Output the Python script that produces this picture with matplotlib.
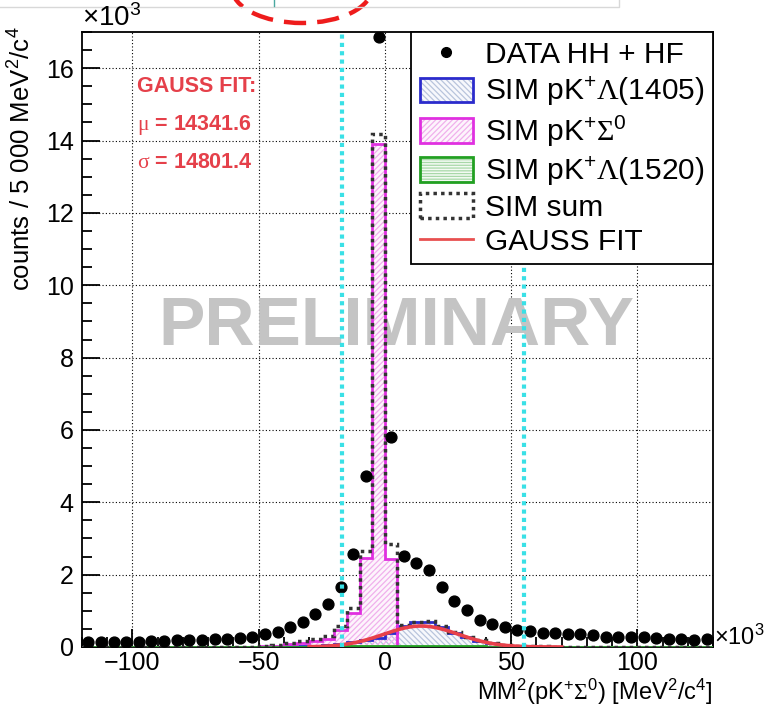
import numpy as np
import matplotlib.pyplot as plt
from matplotlib.patches import Patch, Arc
from matplotlib.lines import Line2D
from matplotlib.legend_handler import HandlerTuple
from matplotlib.ticker import MultipleLocator

plt.rcParams["font.family"] = ["Liberation Sans", "DejaVu Sans"]
plt.rcParams["mathtext.fontset"] = "custom"
plt.rcParams["mathtext.rm"] = "Liberation Sans"
plt.rcParams["mathtext.it"] = "Liberation Sans:italic"
plt.rcParams["mathtext.bf"] = "Liberation Sans:bold"
plt.rcParams["mathtext.sf"] = "Liberation Serif"
plt.rcParams["hatch.linewidth"] = 0.9

# x in units of 10^3 MeV^2/c^4, bins of 5 000
bin_edges = np.arange(-120, 131, 5)
bin_centers = 0.5 * (bin_edges[:-1] + bin_edges[1:])

# counts in units of 10^3
data_counts = [
    0.13, 0.13, 0.14, 0.15, 0.15, 0.16, 0.17, 0.18, 0.19, 0.20,
    0.21, 0.23, 0.26, 0.29, 0.35, 0.42, 0.55, 0.68, 0.90, 1.18,
    1.65, 2.57, 4.72, 16.85, 5.80, 2.52, 2.33, 2.13, 1.67, 1.27,
    1.02, 0.74, 0.63, 0.54, 0.46, 0.44, 0.40, 0.38, 0.35, 0.35,
    0.33, 0.29, 0.27, 0.27, 0.27, 0.25, 0.22, 0.21, 0.20, 0.21,
]
sim_lambda1405 = [
    0, 0, 0, 0, 0, 0, 0, 0, 0, 0,
    0, 0, 0, 0, 0, 0.01, 0.02, 0.03, 0.04, 0.06,
    0.09, 0.14, 0.18, 0.25, 0.40, 0.58, 0.68, 0.70, 0.55, 0.40,
    0.27, 0.17, 0.10, 0.05, 0.03, 0.02, 0.01, 0, 0, 0,
    0, 0, 0, 0, 0, 0, 0, 0, 0, 0,
]
sim_sigma0 = [
    0, 0, 0, 0, 0, 0, 0, 0, 0, 0,
    0, 0, 0, 0, 0.02, 0.04, 0.08, 0.12, 0.16, 0.22,
    0.46, 0.93, 2.45, 13.9, 2.42, 0, 0, 0, 0, 0,
    0, 0, 0, 0, 0, 0, 0, 0, 0, 0,
    0, 0, 0, 0, 0, 0, 0, 0, 0, 0,
]
sim_lambda1520 = [
    0, 0, 0, 0, 0, 0, 0, 0, 0, 0,
    0, 0, 0, 0, 0, 0, 0.01, 0.01, 0.01, 0.02,
    0.02, 0.02, 0.02, 0.02, 0.02, 0.02, 0.02, 0.02, 0.02, 0.02,
    0.02, 0.02, 0.01, 0.01, 0.01, 0.01, 0.01, 0, 0, 0,
    0, 0, 0, 0, 0, 0, 0, 0, 0, 0,
]
sim_sum = np.array(sim_lambda1405) + np.array(sim_sigma0) + np.array(sim_lambda1520)

fit_mu = 14.3416
fit_sigma = 14.8014
fit_amp = 0.58
fit_range = (-30, 70)

cut_lines = [-17, 55]

W, H = 765, 706
fig = plt.figure(figsize=(W / 100, H / 100), dpi=100)
ax = fig.add_axes([82 / W, 1 - 647 / H, (713 - 82) / W, (647 - 32) / H])

ax.set_xlim(-120, 130)
ax.set_ylim(0, 17)

ax.grid(True, color="black", linestyle=(0, (1, 2)), linewidth=0.8, zorder=0)
ax.set_axisbelow(True)

ax.text(0.499, 0.52, "PRELIMINARY", transform=ax.transAxes, ha="center",
        va="center", fontsize=50, fontweight="bold", color="#c4c4c4", zorder=1)

# simulated components: light hatch layer + coloured outline
components = [
    (sim_lambda1405, "#2b2bcc", "#b8c4dc", "\\\\\\\\\\\\", "#f7f8fc"),
    (sim_sigma0, "#e030e0", "#f0b0ec", "//////", "#fdf4fc"),
    (sim_lambda1520, "#22a022", "#a8d8a8", "------", "#f4fbf4"),
]
for vals, edge, hcol, hatch, face in components:
    ax.stairs(vals, bin_edges, fill=True, facecolor=face, zorder=2)
    ax.stairs(vals, bin_edges, fill=True, facecolor="none", edgecolor=hcol,
              hatch=hatch, linewidth=0, zorder=2.1)
    ax.stairs(vals, bin_edges, color=edge, linewidth=2, zorder=3)

ax.stairs(sim_sum, bin_edges, color="#333333", linewidth=2.5,
          linestyle=(0, (1, 1.2)), zorder=3.5)

fx = np.linspace(fit_range[0], fit_range[1], 300)
ax.plot(fx, fit_amp * np.exp(-0.5 * ((fx - fit_mu) / fit_sigma) ** 2),
        color="#e8414a", linewidth=2.6, zorder=4)

ax.plot(bin_centers, data_counts, "o", color="black", markersize=7.8, zorder=5)

for c in cut_lines:
    ax.axvline(c, color="#3ae0e6", linewidth=3, linestyle=(0, (1, 1)), zorder=6)

# fit result text
red = "#e5404a"
ax.text(0.087, 0.911, "GAUSS FIT:", transform=ax.transAxes, color=red,
        fontsize=15.5, fontweight="bold", va="center")
ax.text(0.087, 0.849, r"$\mathsf{\mu}$ = 14341.6", transform=ax.transAxes,
        color=red, fontsize=15.5, fontweight="bold", va="center")
ax.text(0.087, 0.787, r"$\mathsf{\sigma}$ = 14801.4", transform=ax.transAxes,
        color=red, fontsize=15.5, fontweight="bold", va="center")

# ticks, ROOT style
ax.xaxis.set_major_locator(MultipleLocator(50))
ax.xaxis.set_minor_locator(MultipleLocator(10))
ax.yaxis.set_major_locator(MultipleLocator(2))
ax.yaxis.set_minor_locator(MultipleLocator(0.5))
ax.tick_params(which="both", direction="in", width=1.3, labelsize=18)
ax.tick_params(which="major", length=13)
ax.tick_params(which="minor", length=7)
ax.tick_params(axis="x", pad=3)
ax.tick_params(axis="y", pad=6)
for s in ax.spines.values():
    s.set_linewidth(1.3)

fig.text(22 / W, 1 - 26 / H, r"counts / 5 000 MeV$^{2}$/c$^{4}$", rotation=90,
         ha="center", va="top", fontsize=18.5)
fig.text(713 / W, 1 - 692 / H,
         r"MM$^{2}$(pK$^{+}$$\mathsf{\Sigma}^{0}$) [MeV$^{2}$/c$^{4}$]",
         ha="right", va="center", fontsize=17)
fig.text(82 / W, 1 - 18 / H, r"$\times$10$^{3}$", ha="left", va="center",
         fontsize=20)
fig.text(714 / W, 1 - 637 / H, r"$\times$10$^{3}$", ha="left", va="center",
         fontsize=17)

# legend
h_data = Line2D([], [], marker="o", color="black", linestyle="none", markersize=7)
handles = [h_data]
for vals, edge, hcol, hatch, face in components:
    handles.append((Patch(facecolor=face, edgecolor=hcol, hatch=hatch, linewidth=0),
                    Patch(facecolor="none", edgecolor=edge, linewidth=2)))
handles.append(Patch(facecolor="none", edgecolor="#333333", linewidth=2.5,
                     linestyle=(0, (1, 1.2))))
handles.append(Line2D([], [], color="#e85050", linewidth=2))
labels = [
    "DATA HH + HF",
    r"SIM pK$^{+}$$\mathsf{\Lambda}$(1405)",
    r"SIM pK$^{+}$$\mathsf{\Sigma}^{0}$",
    r"SIM pK$^{+}$$\mathsf{\Lambda}$(1520)",
    "SIM sum",
    "GAUSS FIT",
]
leg = ax.legend(handles, labels, loc="upper right", bbox_to_anchor=(1, 1),
                borderaxespad=0, fontsize=21.5, fancybox=False, framealpha=1,
                edgecolor="black", handlelength=1.8, handleheight=0.9,
                handletextpad=0.4, labelspacing=0.18, borderpad=0.28,
                handler_map={tuple: HandlerTuple(ndivide=1)})
leg.get_frame().set_linewidth(1.3)
leg.set_zorder(10)

# leftovers from the slide at the top edge
fig.add_artist(Line2D([0, 619 / W, 619 / W], [1 - 7 / H, 1 - 7 / H, 1],
                      transform=fig.transFigure, color="#d8d8d8", linewidth=1))
fig.add_artist(Arc((302 / W, 1 + 12 / H), 140 / W, 70 / H, theta1=180, theta2=360,
                   transform=fig.transFigure, color="#ee1c1c", linewidth=3.2,
                   linestyle=(0, (5, 2.5))))
fig.add_artist(Line2D([274 / W, 274 / W], [1, 1 - 6 / H], transform=fig.transFigure,
                      color="#4aa8a0", linewidth=1))

plt.savefig("out.png", dpi=100)
